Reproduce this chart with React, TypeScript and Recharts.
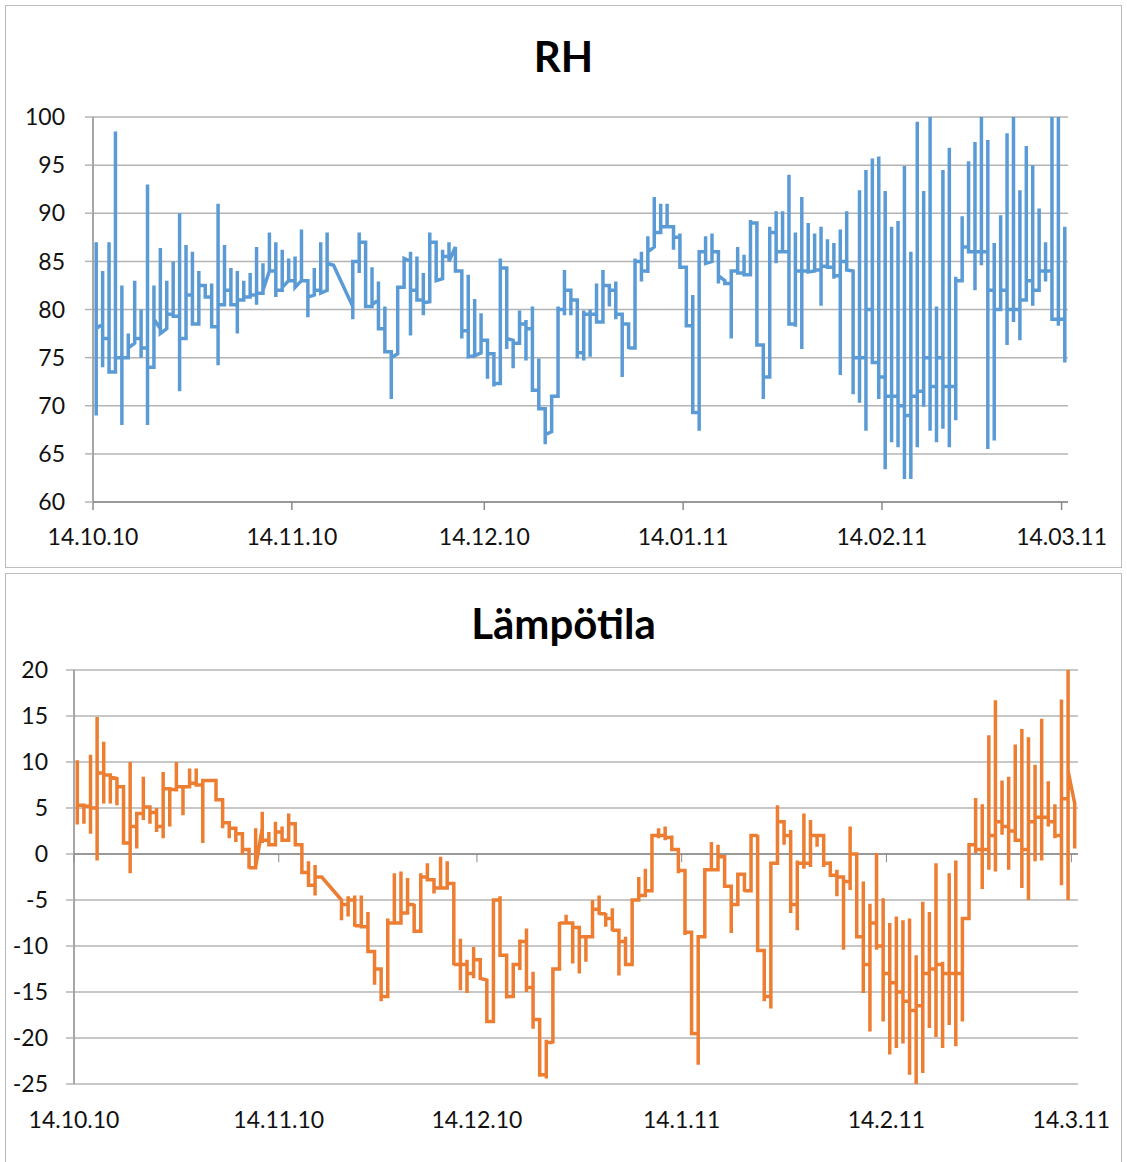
import React from 'react';
import { LineChart, Line, XAxis, YAxis, CartesianGrid, ReferenceLine } from 'recharts';

// days counted from 14.10.10
const dateTicks = [0, 31, 61, 92, 123, 151];
const rhDateLabels = ['14.10.10', '14.11.10', '14.12.10', '14.01.11', '14.02.11', '14.03.11'];
const tempDateLabels = ['14.10.10', '14.11.10', '14.12.10', '14.1.11', '14.2.11', '14.3.11'];
const rhTicks = [60, 65, 70, 75, 80, 85, 90, 95, 100];
const tempTicks = [-25, -20, -15, -10, -5, 0, 5, 10, 15, 20];

// readings of each day, in order (index = day)
const rhReadings: number[][] = [
  [69, 87, 78], [78.5, 84, 74, 77], [77, 87, 73.5], [73.5, 98.5, 74, 75], [75, 82.5, 68, 75],
  [75, 77.5, 76], [76.5, 83, 77], [77, 80, 75, 76], [76, 93, 68, 74], [74, 82.5, 79],
  [78, 86.4, 77.5], [78, 83, 79.5], [79.5, 85, 79.3], [79.3, 90, 71.5, 77], [77, 86.7, 81.5],
  [81.5, 86, 78.5], [78.5, 84, 82.5], [82.5, 81.3], [81.3, 82.7, 78.2], [78.2, 91, 74.2, 80.5],
  [80.5, 86.7, 82], [82, 84.3, 80.5], [80.5, 84, 77.5, 81], [81, 83, 81.3], [81.3, 83.8, 81.5],
  [81.5, 86.5, 80.5, 81.7], [81.7, 84.8, 82], [84, 88, 84], [84, 87, 81.3, 82], [82, 86.2, 82.3],
  [83, 85.3, 83], [83, 85.5, 82.3], [83, 88.3, 83], [83, 79.2, 81.3], [81.5, 84.3, 82],
  [82, 87, 81.7], [82, 88, 84.8], [84.6], [], [],
  [80.3, 79, 85], [85, 88, 83.8, 87], [87, 80.3], [80.3, 84.4, 80.5], [81, 82.9, 78],
  [78, 80.3, 75.6], [75.6, 70.7, 75], [75.4, 82.3], [82.3, 85.3], [85, 86, 77.3, 82],
  [82, 85.5, 81], [81, 83.8, 79.4, 80.7], [80.8, 88, 87], [87, 83], [83.2, 86.2, 85.5],
  [85.5, 87, 85], [86.5, 84], [84, 83.8, 77, 77.8], [77.8, 83.6, 75.1], [75.2, 81.1, 75.2],
  [75.5, 79.6, 75.8, 76.8], [76.8, 75.8, 72.8, 75.4], [75.4, 72, 72.3], [72.3, 85.3, 84.3], [84.3, 75.9, 77],
  [76.8, 73.9, 76.5], [76.5, 79.9, 76.4, 78.5], [78.5, 78.9, 74.7, 78], [78, 80.3, 71.6], [71.6, 74.9, 69.7],
  [69.7, 69.3, 66, 67], [67.3, 70.7, 71], [71, 80.3, 80], [80, 84.1, 79.4, 82], [82, 81.1, 79.4, 81],
  [81, 79.9, 74.9, 75.5], [75.5, 79.9, 74.7, 79.5], [79.5, 80, 75.1, 79.5], [79.5, 82.7, 78.7], [78.7, 84.1, 80.8, 82.5],
  [82.5, 80.3, 82], [82, 82.9, 79, 79.5], [79.5, 78.7, 73, 78.5], [78.5, 75.9, 76], [76, 85.3, 85],
  [85, 86, 82.9, 84], [84, 87.6, 83.8, 86], [86.5, 91.7, 88], [88, 91, 88.6], [88.6, 91, 88.6],
  [88.6, 86.2, 87.5], [87.5, 87.9, 84.4], [84.4, 84.3, 78.7, 78.3], [78.3, 81.5, 69.3], [69.3, 67.4, 86],
  [86, 87.6, 84.8], [85, 87.9, 85.7, 86], [86, 82.7, 83.5], [83, 82.7], [82.7, 83.8, 77, 84],
  [84, 86.5, 83.8], [83.8, 85.7, 83.6], [83.6, 89.3, 89], [89, 76.8, 76.3], [76.3, 70.7, 73],
  [73, 88.6, 88], [88, 90.2, 84.8, 86], [86, 90.2, 86], [86, 94, 78.5], [78.5, 88, 78.2, 84],
  [84, 91.7, 75.9, 84], [84, 89, 83.9], [84, 87.9, 84.1], [84.1, 88.6, 80.4, 84.5], [84.5, 87.3, 84.4],
  [84.4, 86.9, 83.2, 83.5], [83.5, 88.3, 73.2, 85], [85, 90.2, 84.1], [84, 83.8, 71.2, 75], [75, 92.4, 70.3, 75],
  [75, 94.5, 67.4, 80], [80, 95.7, 74.5], [74.5, 95.9, 70.7, 73], [73, 92.3, 63.4, 71], [71, 88.6, 66.2, 71],
  [71, 89.2, 65.7, 70], [70, 94.9, 62.4, 69], [69, 86, 62.4, 71], [71, 99.5, 65.7, 71.5], [71.5, 92.3, 69.9, 75],
  [75, 100, 67.4, 72], [72, 80.3, 66.2, 75], [75, 94.5, 67.6, 72], [72, 96.8, 65.7, 72], [72, 83.4, 68.5, 83],
  [83, 89.7, 86.9, 86.5], [86.5, 95.4, 86.4, 86], [86, 97.4, 82, 86], [86, 100, 84.6, 86], [86, 97.6, 65.5, 82],
  [82, 86.9, 66.4, 80], [80, 89.8, 80.1, 82], [82, 98.3, 76.3, 80], [80, 100, 78.7, 80], [80, 92.4, 76.8, 81],
  [81, 97, 80.8, 83], [83, 95, 80.4, 82], [82, 90.5, 83.4, 84], [84, 87, 82.9, 84], [84, 100, 79.2, 79],
  [79, 100, 78.3, 79], [79, 88.6, 74.5],
];

const tempReadings: number[][] = [
  [3.2, 10.2, 5.3], [5.3, 3.3, 5.2], [5.2, 10.8, 2.2, 5], [5, 14.9, -0.7, 8.8], [8.8, 12.2, 5.5, 8.6],
  [8.6, 5.5, 8.4], [8.2, 5.3, 7.3], [7.3, 7.1, 1.5, 1.2], [1.2, 10, -2.1, 3], [3, 4.6, 0.6, 4.4],
  [4.4, 8.4, 3.7, 5.1], [5.1, 3.3, 4.5], [4.5, 5, 2.4, 3], [3, 8.9, 1.7, 7.1], [7.1, 3, 7],
  [7, 10, 6.8, 7.3], [7.3, 4.2, 7.5, 7.3], [7.3, 9.3, 7.7], [7.7, 9.3, 7.5], [7.5, 7.7, 1.2, 4.2, 8],
  [8, 8], [8, 5.9], [5.9, 2.8, 3.4], [3.4, 3, 1.7, 2.8], [2.8, 2.2, 1.3, 2.2],
  [2.2, -0.1, 0.5], [0.5, 0.4, -1.6, -1.5], [-1.5, 2.8, -1.4], [2.8, 4.6, 1.2, 1.5], [1.5, 2.4, 1],
  [1, 3.5, 2.4], [2.4, 3, 1.3, 1.5], [1.5, 4.4, 1.5, 3.3], [3.3, 1, 1], [1, -1.9, -2],
  [-2, -0.8, -3.6, -3.4], [-3.4, -1.2, -4.5, -2.5], [-2.5], [], [],
  [-5, -7.2, -5.5], [-5.5, -4.6, -6.8, -5], [-5, -4.5, -7.9, -7.8], [-7.8, -4.5, -7.9], [-7.9, -6.3, -10.6],
  [-10.6, -10.8, -14.2, -12.5], [-12.5, -12.6, -16, -15.5], [-15.5, -7, -7.5], [-7.5, -2.1, -7.5], [-7.5, -1.9, -6.4],
  [-6.4, -2.6, -5.9, -5.5], [-5.5, -5.4, -8.4], [-8.4, -2.1, -2.5], [-2.5, -1, -2.8], [-2.8, -2.6, -4.3, -3.7],
  [-3.7, -0.3, -3.7], [-3.7, -0.8, -3, -3.2], [-3.2, -12.1, -12], [-12, -9.2, -14.8, -12], [-12, -11.5, -15.1, -13],
  [-13, -10.1, -13.5, -11.5], [-11.5, -13.7, -13.5], [-13.7, -18, -18.2], [-18.2, -4.8, -5], [-5, -4.6, -10.6, -11],
  [-11, -15.7, -15.5], [-15.5, -11.9, -15.3, -12], [-12, -9.3, -12.6, -9.5], [-9.5, -8.1, -15, -14.5], [-14.5, -12.8, -19, -18],
  [-18, -19.1, -24.2, -24], [-24, -24.4, -20.2, -20.5], [-20.5, -20.6, -12.8, -12.5], [-12.5, -7.4, -7.5], [-7.5, -6.6, -7.7, -7.5],
  [-7.5, -11.9, -8], [-8, -8.8, -13, -9], [-9, -8.8, -11.7, -9], [-9, -5, -8.8, -6], [-6, -4.5, -6.6, -6.5],
  [-6.5, -6.4, -7.9, -7], [-7, -5.9, -8.4, -8.3], [-8.3, -13.2, -9.5], [-9.5, -9, -12.2, -12], [-12, -4.8, -5],
  [-5, -2.5, -4.8, -4.5], [-4.5, -1.6, -4.6, -4], [-4, 2.2, -3.9, 2], [2, 2.8, 1.7, 2], [2, 3, 1.5, 1.8],
  [1.8, 2, 0.3, 0.5], [0.5, 0.3, -2.1, -1.8], [-1.8, -2.3, -8.8, -8.5], [-8.5, -9.5, -19.7, -19.5], [-19.5, -22.9, -9.2, -9],
  [-9, -1.7, -1.7], [-1.7, 1.3, -1.7], [-1.7, 1, -0.3], [-0.3, -0.1, -3.7, -3.5], [-3.5, -3.9, -8.6, -5.5],
  [-5.5, -2.1, -5.5, -2.2], [-2.2, -2.3, -4.1, -4], [-4, 1.9, 2], [2, 2.1, -10.3, -10.5], [-10.5, -10.8, -16, -15.5],
  [-15.5, -16.8, -1.4, -1], [-1, 5.3, 3.5], [3.5, 3.7, 1, 2], [2, 2.6, -6.4, -5.5], [-5.5, -0.7, -8.3, -1],
  [-1, 4.4, -1.6, -1], [-1, 3.7, -1.4, 2], [2, 2.1, 0.8, 2], [2, 1.9, -1.4, -1], [-1, -0.8, -2.5, -2.3],
  [-2.3, -1.7, -4.6, -2.5], [-2.5, -2.5, -10.4, -3], [-3, 3, -3.9, 0], [0, -0.3, -8.8, -9], [-9, -3, -15.1, -12],
  [-12, -5.4, -19.3, -7.5], [-7.5, 0.1, -10.4, -10], [-10, -4.8, -18.2, -13], [-13, -7.5, -21.8, -14], [-14, -6.8, -21.1, -15],
  [-15, -7.2, -20.6, -16], [-16, -7, -24, -17], [-17, -11, -25, -16.5], [-16.5, -5.2, -23.8, -13], [-13, -6.3, -18.9, -12.5],
  [-12.5, -1, -19.9, -12], [-12, -11.7, -21.1, -13], [-13, -2.1, -18.6, -13], [-13, -0.7, -20.9, -13], [-13, -7.2, -18.2, -7],
  [-7, 1, 1], [1, 6.1, 0.1, 0.5], [0.5, 5.4, -3.8, 0.5], [0.5, 12.9, -1.7, 2], [2, 16.7, -1.9, 3.5],
  [3.5, 8, 2.1, 3], [3, 8.4, -1.7, 2.5], [2.5, 11.9, 1.3, 1.5], [1.5, 13.6, -3.7, 0.5], [0.5, 12.7, -5, 3.5],
  [3.5, 9.7, -0.8, 4], [4, 14.7, -0.7, 4], [4, 7.9, 3, 3.5], [3.5, 5.4, 1.7, 2], [2, 16.8, -3.4, 6],
  [6, 20, -5, 9], [5.5, 0.6],
];

// every reading of a day is plotted at midday of that date
const toPoints = (days: number[][]) =>
  days.flatMap((vals, day) => vals.map((v) => ({ day: day + 0.5, v })));

const rhData = toPoints(rhReadings);
const tempData = toPoints(tempReadings);

const font = 'Lato, "Open Sans", sans-serif';
const gridColor = '#b4b4b4';
const axisColor = '#8a8a8a';
const tickStyle = { fontSize: 23, fill: '#111' };

const boxStyle: React.CSSProperties = {
  position: 'absolute',
  left: 5,
  width: 1115,
  border: '1px solid #bcbcbc',
  background: '#fff',
};

const titleStyle: React.CSSProperties = {
  position: 'absolute',
  left: 0,
  width: '100%',
  textAlign: 'center',
  fontSize: 42,
  fontWeight: 700,
  lineHeight: '42px',
  color: '#000',
};

export default function App() {
  return (
    <div style={{ position: 'absolute', left: 0, top: 0, width: 1127, height: 1162, background: '#fff', fontFamily: font, overflow: 'hidden' }}>
      <div style={{ ...boxStyle, top: 5, height: 561 }}>
        <div style={{ ...titleStyle, top: 29 }}>RH</div>
        <LineChart width={1115} height={561} data={rhData} margin={{ top: 111, right: 53, left: 27, bottom: 25 }}>
          <CartesianGrid vertical={false} stroke={gridColor} strokeWidth={1.5} />
          <XAxis
            type="number"
            dataKey="day"
            domain={[0, 152]}
            ticks={dateTicks}
            tickFormatter={(d: number) => rhDateLabels[dateTicks.indexOf(d)]}
            height={40}
            tickSize={8}
            tickMargin={19}
            stroke={axisColor}
            strokeWidth={1.5}
            tick={tickStyle}
            interval={0}
          />
          <YAxis
            domain={[60, 100]}
            ticks={rhTicks}
            width={60}
            tickSize={8}
            tickMargin={20}
            stroke={axisColor}
            strokeWidth={1.5}
            tickLine={{ stroke: gridColor }}
            tick={tickStyle}
            interval={0}
          />
          <Line type="linear" dataKey="v" stroke="#5b9bd5" strokeWidth={3.5} dot={false} isAnimationActive={false} />
        </LineChart>
      </div>

      <div style={{ ...boxStyle, top: 573, height: 600 }}>
        <div style={{ ...titleStyle, top: 28 }}>Lämpötila</div>
        <LineChart width={1115} height={598} data={tempData} margin={{ top: 96, right: 43, left: 8, bottom: 48 }}>
          <CartesianGrid vertical={false} stroke={gridColor} strokeWidth={1.5} />
          <XAxis
            type="number"
            dataKey="day"
            domain={[0, 152]}
            ticks={dateTicks}
            tickFormatter={(d: number) => tempDateLabels[dateTicks.indexOf(d)]}
            height={40}
            axisLine={false}
            tickLine={false}
            tickSize={8}
            tickMargin={20}
            tick={tickStyle}
            interval={0}
          />
          <YAxis
            domain={[-25, 20]}
            ticks={tempTicks}
            width={60}
            tickSize={8}
            tickMargin={18}
            stroke={axisColor}
            strokeWidth={1.5}
            tickLine={{ stroke: gridColor }}
            tick={tickStyle}
            interval={0}
          />
          <ReferenceLine y={0} stroke={axisColor} strokeWidth={1.5} />
          {dateTicks.map((d) => (
            <ReferenceLine key={d} segment={[{ x: d, y: 0 }, { x: d, y: -0.9 }]} stroke={axisColor} strokeWidth={1} />
          ))}
          <Line type="linear" dataKey="v" stroke="#ed7d31" strokeWidth={3.5} dot={false} isAnimationActive={false} />
        </LineChart>
      </div>
    </div>
  );
}
